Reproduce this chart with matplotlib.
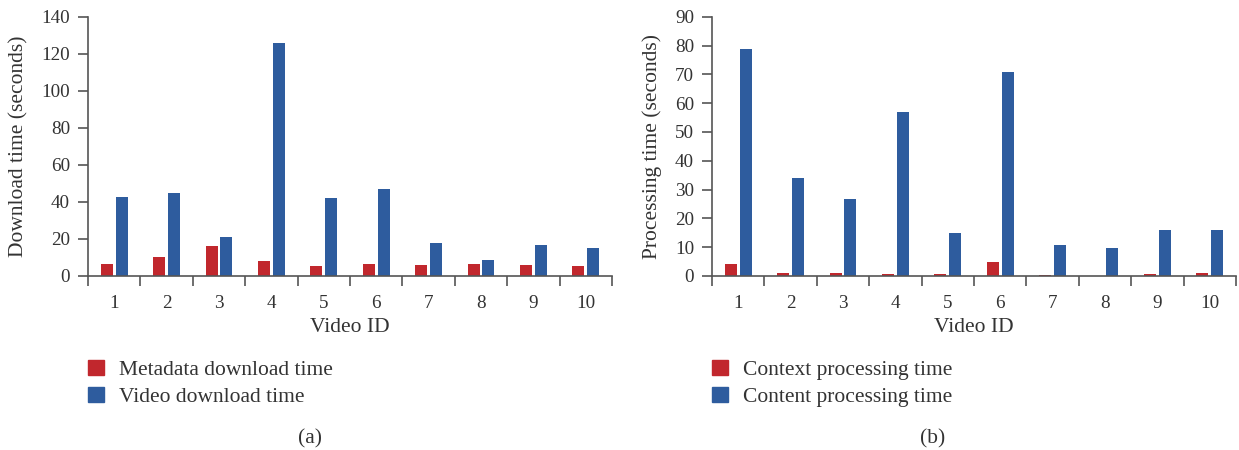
import matplotlib
matplotlib.use("Agg")
import matplotlib.pyplot as plt
from matplotlib.patches import Patch
import numpy as np

video_ids = [1, 2, 3, 4, 5, 6, 7, 8, 9, 10]
metadata_download = [6.5, 10.3, 16.2, 8.1, 5.4, 6.5, 5.9, 6.5, 5.9, 5.4]
video_download = [42.7, 44.8, 21.0, 125.8, 42.1, 47.0, 17.8, 8.6, 16.7, 15.1]
context_processing = [4.2, 1.0, 1.0, 0.7, 0.7, 4.9, 0.35, 0.0, 0.7, 1.0]
content_processing = [78.8, 34.0, 26.7, 56.9, 14.9, 70.8, 10.8, 9.7, 16.0, 16.0]

RED = "#C1272D"
BLUE = "#2E5C9E"
TXT = "#333333"
AX = "#555555"

plt.rcParams['font.family'] = ['Liberation Serif', 'DejaVu Serif']

TICK_FS = 13.8
LAB_FS = 15.5

fig = plt.figure(figsize=(12.39, 4.5), dpi=100)
axL = fig.add_axes([88/1239, 1-276/450, 524/1239, 259.3/450])
axR = fig.add_axes([712/1239, 1-276/450, 524/1239, 259.3/450])

def draw(ax, s1, s2, ymax, ystep, ylabel, l1, l2, tag, legx, tagx, ylab_x):
    x = np.array(video_ids, dtype=float)
    w = 0.229
    off = 0.143
    ax.bar(x - off, s1, width=w, color=RED, label=l1)
    ax.bar(x + off, s2, width=w, color=BLUE, label=l2)
    ax.set_xlim(0.5, 10.5)
    ax.set_ylim(0, ymax)
    ax.set_yticks(np.arange(0, ymax + 1, ystep))
    ax.set_xticks(np.arange(0.5, 11, 1.0))
    ax.set_xticklabels([])
    ax.set_xticks(x, minor=True)
    ax.set_xticklabels([str(v) for v in video_ids], minor=True)
    ax.tick_params(axis='x', which='major', direction='out', length=7, width=1.2, color=AX)
    ax.tick_params(axis='x', which='minor', length=0, pad=14, labelcolor=TXT, labelsize=TICK_FS)
    ax.tick_params(axis='y', direction='out', length=7, width=1.2, color=AX, labelcolor=TXT,
                   labelsize=TICK_FS, pad=6)
    for sp in ['top', 'right']:
        ax.spines[sp].set_visible(False)
    for sp in ['left', 'bottom']:
        ax.spines[sp].set_color(AX)
        ax.spines[sp].set_linewidth(1.2)
    ax.set_xlabel("Video ID", color=TXT, fontsize=LAB_FS)
    ax.xaxis.set_label_coords(0.5, -(327 - 276) / 259.3)
    ax.xaxis.label.set_va('center')
    ax.set_ylabel(ylabel, color=TXT, fontsize=LAB_FS)
    ax.yaxis.set_label_coords(ylab_x, 0.5)
    ax.yaxis.label.set_va('center')
    handles = [Patch(color=RED), Patch(color=BLUE)]
    fig.legend(handles, [l1, l2], loc='upper left',
               bbox_to_anchor=(legx/1239, 1-360/450), frameon=False,
               handlelength=0.72, handleheight=0.72, handletextpad=0.7,
               labelspacing=0.3, borderaxespad=0, borderpad=0,
               fontsize=LAB_FS, labelcolor=TXT)
    fig.text(tagx/1239, 1-438.5/450, tag, ha='center', va='center', color=TXT, fontsize=LAB_FS)

draw(axL, metadata_download, video_download, 140, 20, "Download time (seconds)",
     "Metadata download time", "Video download time", "(a)", 88, 310, (19 - 88) / 524)
draw(axR, context_processing, content_processing, 90, 10, "Processing time (seconds)",
     "Context processing time", "Content processing time", "(b)", 712, 933, (652 - 712) / 524)

fig.savefig("out.png", dpi=100)
